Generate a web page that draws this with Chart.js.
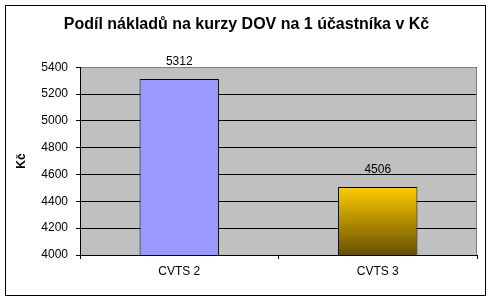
<!DOCTYPE html>
<html>
<head>
<meta charset="utf-8">
<script src="https://cdn.jsdelivr.net/npm/chart.js@4/dist/chart.umd.min.js"></script>
<style>
  html, body { margin: 0; padding: 0; background: #fff; }
  #wrap { width: 493px; height: 302px; position: relative; }
</style>
</head>
<body>
<div id="wrap"><canvas id="chart"></canvas></div>
<script>
// data
const categories = ['CVTS 2', 'CVTS 3'];
const costPerParticipant = [5312, 4506];
const yTicks = [4000, 4200, 4400, 4600, 4800, 5000, 5200, 5400];

const titleText = 'Podíl nákladů na kurzy DOV na 1 účastníka v Kč';
const axisTitle = 'Kč';
const FONT = "'Liberation Sans', Arial, sans-serif";

// plot background, frame and value labels
const excelLook = {
    id: 'excelLook',
    beforeDraw(chart) {
        const { ctx, chartArea: a } = chart;
        ctx.save();
        ctx.fillStyle = '#fff';
        ctx.fillRect(0, 0, chart.width, chart.height);
        ctx.strokeStyle = '#000';
        ctx.lineWidth = 1;
        ctx.strokeRect(5.5, 5.5, 480, 290);
        ctx.fillStyle = '#c0c0c0';
        ctx.fillRect(a.left, a.top, a.right - a.left, a.bottom - a.top);
        ctx.restore();
    },
    afterDraw(chart) {
        const { ctx, chartArea: a } = chart;
        ctx.save();
        ctx.strokeStyle = '#808080';
        ctx.lineWidth = 1;
        ctx.beginPath();
        ctx.moveTo(a.left + 1, Math.round(a.top) + 0.5);
        ctx.lineTo(Math.round(a.right) - 0.5, Math.round(a.top) + 0.5);
        ctx.lineTo(Math.round(a.right) - 0.5, a.bottom);
        ctx.stroke();

        const meta = chart.getDatasetMeta(0);
        ctx.fillStyle = '#000';
        ctx.font = '12px ' + FONT;
        ctx.textAlign = 'center';
        ctx.textBaseline = 'middle';
        meta.data.forEach((bar, i) => {
            ctx.fillText(String(costPerParticipant[i]), bar.x, bar.y - 17);
        });
        ctx.restore();
    }
};

function barFill(context) {
    const chart = context.chart;
    if (context.dataIndex === 0) return '#9999ff';
    const y = chart.scales.y;
    if (!chart.chartArea || !y) return '#ffcc00';
    const top = y.getPixelForValue(costPerParticipant[context.dataIndex]);
    const bottom = y.getPixelForValue(yTicks[0]);
    const g = chart.ctx.createLinearGradient(0, top, 0, bottom);
    g.addColorStop(0, '#ffcc00');
    g.addColorStop(1, '#665000');
    return g;
}

new Chart(document.getElementById('chart'), {
    type: 'bar',
    data: {
        labels: categories,
        datasets: [{
            data: costPerParticipant,
            backgroundColor: barFill,
            borderColor: '#000',
            borderWidth: 1,
            borderSkipped: 'bottom',
            barPercentage: 0.4,
            categoryPercentage: 1
        }]
    },
    options: {
        responsive: true,
        maintainAspectRatio: false,
        animation: false,
        devicePixelRatio: 1,
        layout: { padding: { left: 16, right: 16, top: 0, bottom: 0 } },
        plugins: {
            legend: { display: false },
            tooltip: { enabled: false },
            title: {
                display: true,
                text: titleText,
                color: '#000',
                font: { family: FONT, size: 16, weight: 'bold' },
                padding: { top: 15, bottom: 33 }
            }
        },
        scales: {
            x: {
                grid: { drawOnChartArea: false, drawTicks: true, tickLength: 4, color: '#000' },
                border: { color: '#000' },
                ticks: { color: '#000', padding: 5, font: { family: FONT, size: 12 } },
                afterFit(scale) { scale.height = 47; }
            },
            y: {
                min: yTicks[0],
                max: yTicks[yTicks.length - 1],
                afterBuildTicks(scale) { scale.ticks = yTicks.map(v => ({ value: v })); },
                grid: { color: '#000', tickLength: 4 },
                border: { color: '#000' },
                ticks: {
                    color: '#000',
                    padding: 8,
                    font: { family: FONT, size: 12 },
                    callback: (v) => String(v)
                },
                title: {
                    display: true,
                    text: axisTitle,
                    color: '#000',
                    font: { family: FONT, size: 12, weight: 'bold' },
                    padding: { top: -2, bottom: 0 }
                },
                afterFit(scale) { scale.width = 64; }
            }
        }
    },
    plugins: [excelLook]
});
</script>
</body>
</html>
